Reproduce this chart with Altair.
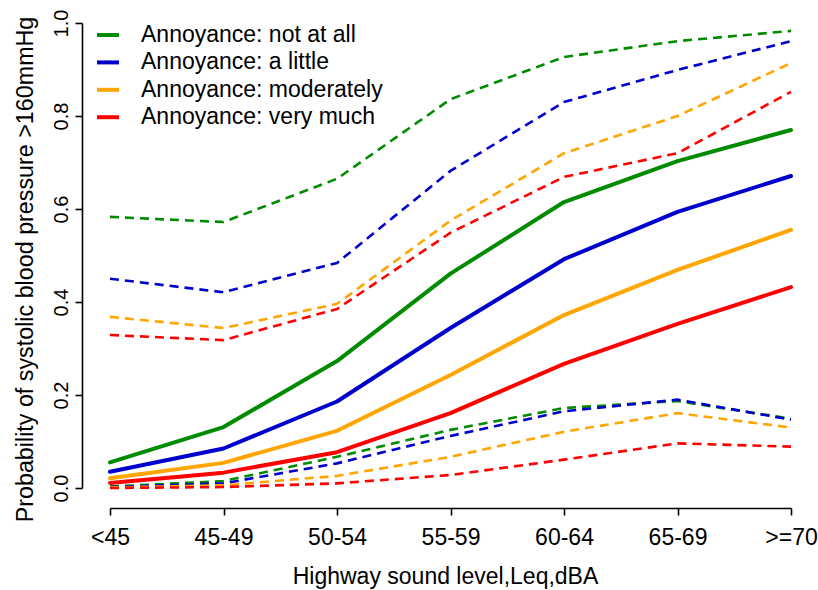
import altair as alt
import pandas as pd

levels = ["<45", "45-49", "50-54", "55-59", "60-64", "65-69", ">=70"]
groups = ["Annoyance: not at all", "Annoyance: a little",
          "Annoyance: moderately", "Annoyance: very much"]
colors = ["#008B00", "#0000CD", "#FFA500", "#FF0000"]

est_not_at_all = [0.055, 0.131, 0.273, 0.461, 0.615, 0.703, 0.770]
est_a_little = [0.035, 0.085, 0.186, 0.344, 0.492, 0.594, 0.671]
est_moderately = [0.021, 0.054, 0.123, 0.243, 0.372, 0.469, 0.555]
est_very_much = [0.011, 0.033, 0.077, 0.161, 0.267, 0.353, 0.432]

hi_not_at_all = [0.583, 0.572, 0.665, 0.836, 0.927, 0.961, 0.983]
hi_a_little = [0.450, 0.421, 0.484, 0.682, 0.830, 0.899, 0.961]
hi_moderately = [0.368, 0.344, 0.396, 0.575, 0.720, 0.800, 0.914]
hi_very_much = [0.329, 0.318, 0.385, 0.549, 0.669, 0.720, 0.852]

lo_not_at_all = [0.003, 0.015, 0.067, 0.125, 0.172, 0.187, 0.149]
lo_a_little = [0.002, 0.010, 0.053, 0.112, 0.165, 0.190, 0.147]
lo_moderately = [0.001, 0.006, 0.026, 0.067, 0.121, 0.161, 0.130]
lo_very_much = [0.000, 0.002, 0.010, 0.028, 0.061, 0.096, 0.089]

est_all = [est_not_at_all, est_a_little, est_moderately, est_very_much]
hi_all = [hi_not_at_all, hi_a_little, hi_moderately, hi_very_much]
lo_all = [lo_not_at_all, lo_a_little, lo_moderately, lo_very_much]

est_rows, ci_rows = [], []
for g, e, h, l in zip(groups, est_all, hi_all, lo_all):
    for i, lev in enumerate(levels):
        est_rows.append({"level": lev, "group": g, "value": e[i]})
        ci_rows.append({"level": lev, "group": g, "series": g + " hi", "value": h[i]})
        ci_rows.append({"level": lev, "group": g, "series": g + " lo", "value": l[i]})
df_est = pd.DataFrame(est_rows)
df_ci = pd.DataFrame(ci_rows)

FONT = "Liberation Sans"

x_enc = alt.X(
    "level:N", sort=levels,
    scale=alt.Scale(type="point", padding=0),
    axis=alt.Axis(
        title="Highway sound level,Leq,dBA", labelAngle=0, offset=20,
        tickSize=7, labelPadding=11, labelFontSize=23, labelBaseline="top",
        titleFontSize=23, titleX=335, titleY=75, titleAlign="center",
        titleBaseline="alphabetic", grid=False,
    ),
)
y_enc = alt.Y(
    "value:Q",
    scale=alt.Scale(domain=[0, 1], nice=False, zero=False),
    axis=alt.Axis(
        title="Probability of systolic blood pressure >160mmHg",
        values=[0, 0.2, 0.4, 0.6, 0.8, 1.0], format=".1f", offset=28,
        tickSize=7, labelAngle=270, labelAlign="center",
        labelBaseline="alphabetic", labelPadding=8, labelFontSize=20,
        titleFontSize=23.3, titleAngle=270, titleX=-50, titleY=246,
        titleAlign="center", titleBaseline="alphabetic", grid=False,
    ),
)

dashed = alt.Chart(df_ci).mark_line(strokeWidth=2.6, strokeDash=[9, 6]).encode(
    x=x_enc, y=y_enc,
    color=alt.Color("group:N", scale=alt.Scale(domain=groups, range=colors), legend=None),
    detail="series:N",
)

solid = alt.Chart(df_est).mark_line(strokeWidth=4, strokeCap="round", strokeJoin="round").encode(
    x=x_enc, y=y_enc,
    color=alt.Color(
        "group:N", scale=alt.Scale(domain=groups, range=colors),
        legend=alt.Legend(
            orient="none", legendX=-15, legendY=-1, title=None,
            symbolType="stroke", symbolStrokeWidth=4, symbolSize=484,
            labelFontSize=23, labelFont=FONT, labelOffset=20,
            rowPadding=2.4, padding=0, labelLimit=400,
        ),
    ),
)

chart = alt.layer(dashed, solid).resolve_legend(color="independent").properties(
    width=681, height=465,
    autosize=alt.AutoSizeParams(type="none"),
    padding={"left": 110, "top": 23, "right": 27, "bottom": 102},
).configure(
    font=FONT,
).configure_view(
    stroke=None,
).configure_axis(
    labelFont=FONT, titleFont=FONT, labelColor="black", titleColor="black",
    domainColor="black", tickColor="black", domainWidth=1.6, tickWidth=1.6,
    titleFontWeight="normal",
).configure_legend(
    labelColor="black",
)

chart.save("out.html", embed_options={"renderer": "svg", "actions": False})
